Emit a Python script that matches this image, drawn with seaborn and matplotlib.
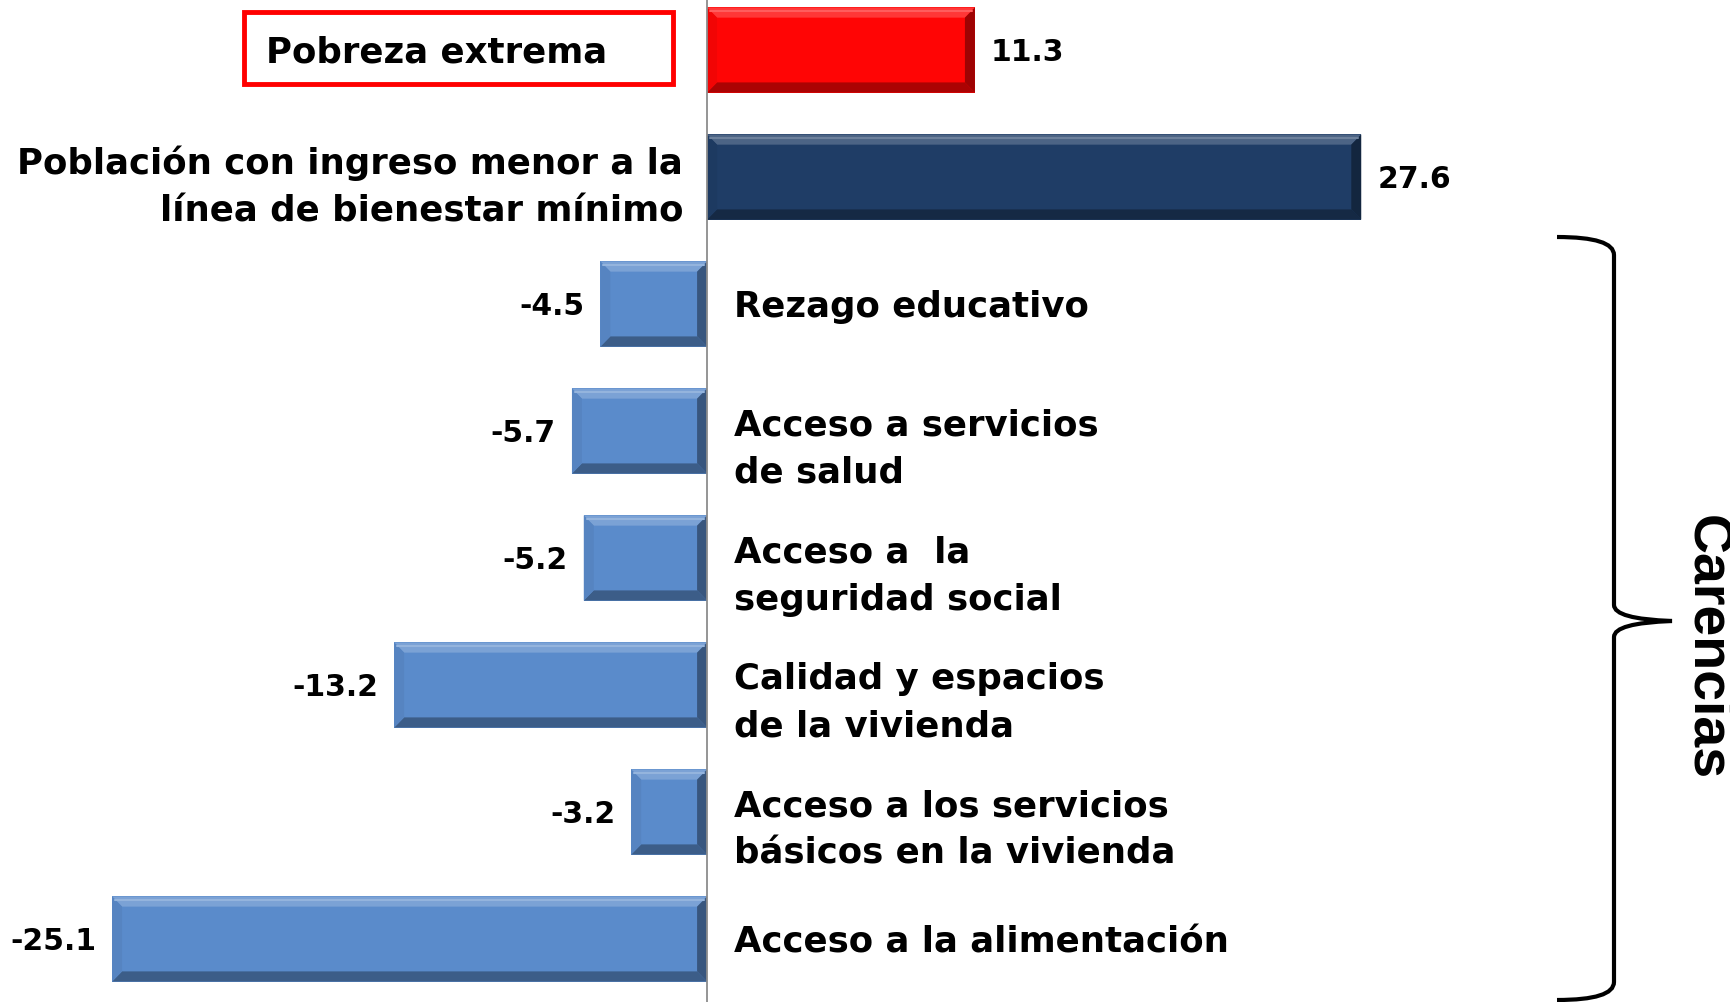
import numpy as np
import pandas as pd
import matplotlib
matplotlib.use("Agg")
import matplotlib.pyplot as plt
import matplotlib.colors as mcolors
from matplotlib.patches import Polygon, Rectangle
from matplotlib.path import Path
from matplotlib.patches import PathPatch
import seaborn as sns

categories = [
    "Pobreza extrema",
    "Población con ingreso menor a la\nlínea de bienestar mínimo",
    "Rezago educativo",
    "Acceso a servicios\nde salud",
    "Acceso a  la\nseguridad social",
    "Calidad y espacios\nde la vivienda",
    "Acceso a los servicios\nbásicos en la vivienda",
    "Acceso a la alimentación",
]
values = [11.3, 27.6, -4.5, -5.7, -5.2, -13.2, -3.2, -25.1]
bar_colors = ["#FF0505", "#1F3D66", "#5A8BCB", "#5A8BCB", "#5A8BCB", "#5A8BCB", "#5A8BCB", "#5A8BCB"]
group_label = "Carencias"

df = pd.DataFrame({"cat": categories, "val": values})

sns.set_style("white")
plt.rcParams["font.family"] = ["DejaVu Sans"]
plt.rcParams["text.color"] = "black"

W, H = 1731, 1002
fig = plt.figure(figsize=(W / 100, H / 100), dpi=100)
ax = fig.add_axes([0, 0, 1, 1])

sns.barplot(data=df, x="val", y="cat", hue="cat", palette=bar_colors,
            dodge=False, legend=False, width=0.67, orient="h",
            edgecolor="none", saturation=1, ax=ax)

ax.set_xlim(-29.83, 43.2)
ax.set_ylim(7.496, -0.394)

# bevel look on every bar
dx, dy = 0.42, 0.08
def mix(c, other, t):
    c = np.array(mcolors.to_rgb(c))
    return tuple(c * (1 - t) + np.array(other) * t)

for p in list(ax.patches):
    xl, xr = sorted([p.get_x(), p.get_x() + p.get_width()])
    yt, yb = sorted([p.get_y(), p.get_y() + p.get_height()])
    fc = p.get_facecolor()
    sides = [
        ([(xl, yt), (xr, yt), (xr - dx, yt + dy), (xl + dx, yt + dy)], mix(fc, (1, 1, 1), 0.2)),
        ([(xl, yb), (xr, yb), (xr - dx, yb - dy), (xl + dx, yb - dy)], mix(fc, (0, 0, 0), 0.33)),
        ([(xl, yt), (xl + dx, yt + dy), (xl + dx, yb - dy), (xl, yb)], mix(fc, (0, 0, 0), 0.05)),
        ([(xr, yt), (xr - dx, yt + dy), (xr - dx, yb - dy), (xr, yb)], mix(fc, (0, 0, 0), 0.38)),
    ]
    for pts, col in sides:
        ax.add_patch(Polygon(pts, closed=True, facecolor=col, edgecolor="none", zorder=3))
    # thin highlight line along the top
    ax.plot([xl + dx * 0.3, xr - dx * 0.3], [yt + dy * 0.35] * 2,
            color=mix(fc, (1, 1, 1), 0.35), lw=1.5, zorder=3.5)

for cont in ax.containers:
    labels = ax.bar_label(cont, fmt="%.1f", padding=11.5, fontsize=21.5,
                          fontweight="bold", color="black")
    for t in labels:
        x0, y0 = t.xyann
        t.xyann = (x0, y0 - 1.5)

# axis at zero with small ticks between rows
for s in ["top", "right", "bottom"]:
    ax.spines[s].set_visible(False)
ax.spines["left"].set_position(("data", 0))
ax.spines["left"].set_color("#8C8C8C")
ax.spines["left"].set_linewidth(1.3)
ax.spines["left"].set_zorder(4)
ax.set_yticks(np.arange(0.5, 7, 1))
ax.set_yticklabels([])
ax.tick_params(axis="y", length=5, width=1.2, color="#8C8C8C", direction="out")
ax.set_xticks([])
ax.set_xlabel("")
ax.set_ylabel("")

# category labels
fs = 25.6
for i, (lab, v) in enumerate(zip(categories, values)):
    if i == 0:
        ax.annotate(lab, xy=(0, i), xytext=(-441, -2), textcoords="offset pixels",
                    ha="left", va="center", fontsize=fs, fontweight="bold")
    elif v > 0:
        ax.annotate(lab, xy=(0, i), xytext=(-24, -10), textcoords="offset pixels",
                    ha="right", va="center", fontsize=fs, fontweight="bold",
                    multialignment="right", linespacing=1.5)
    else:
        off = -18 if "\n" in lab else -3
        ax.annotate(lab, xy=(0, i), xytext=(27, off), textcoords="offset pixels",
                    ha="left", va="center", fontsize=fs, fontweight="bold",
                    linespacing=1.5)

# red frame around the first label
fig.add_artist(Rectangle((244 / W, 1 - 84 / H), (673 - 244) / W, (84 - 12) / H,
                         transform=fig.transFigure, fill=False,
                         edgecolor="#FF0000", linewidth=3.5))

# brace for the deprivation group
def fp(x, y):
    return (x / W, 1 - y / H)

verts = [fp(1557, 237), fp(1614, 237), fp(1614, 255),
         fp(1614, 605), fp(1614, 619), fp(1672, 621),
         fp(1614, 623), fp(1614, 637),
         fp(1614, 982), fp(1614, 1000), fp(1557, 1000)]
codes = [Path.MOVETO, Path.CURVE3, Path.CURVE3,
         Path.LINETO, Path.CURVE3, Path.CURVE3,
         Path.CURVE3, Path.CURVE3,
         Path.LINETO, Path.CURVE3, Path.CURVE3]
fig.add_artist(PathPatch(Path(verts, codes), transform=fig.transFigure,
                         fill=False, edgecolor="black", linewidth=3))
fig.text(1706 / W, 1 - 648 / H, group_label, rotation=-90, ha="center", va="center",
         fontsize=40, fontweight="bold", family="Liberation Sans")

fig.savefig("out.png", dpi=100)
